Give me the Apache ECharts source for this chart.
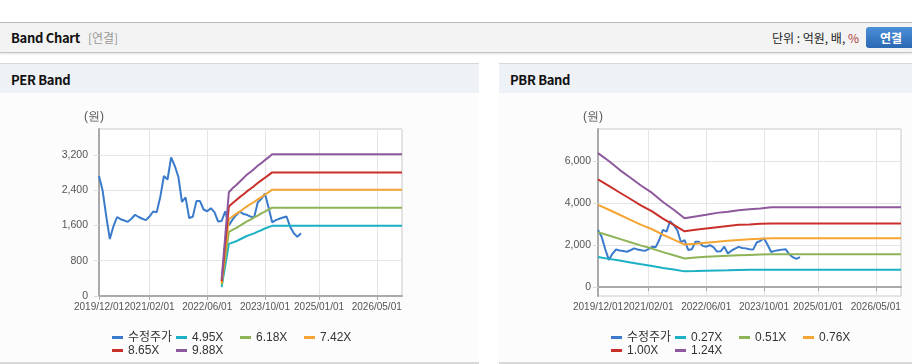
<!DOCTYPE html>
<html>
<head>
<meta charset="utf-8">
<script src="https://cdn.jsdelivr.net/npm/echarts@6/dist/echarts.min.js"></script>
<style>
  body { margin: 0; width: 912px; height: 364px; background: #fff; position: relative; overflow: hidden;
         font-family: "Noto Sans CJK KR", "Noto Sans", sans-serif; }
  .topbar { position: absolute; left: 0; top: 22px; width: 912px; height: 29px; background: #f3f3f3;
            border-top: 1px solid #b9b9b9; border-bottom: 1px solid #c4c4c4; box-shadow: 0 1px 2px rgba(0,0,0,0.12); }
  .topbar .title { position: absolute; left: 11px; top: 0; line-height: 29px; font-size: 13px; font-weight: bold; color: #111; letter-spacing: -0.3px; }
  .topbar .sub { color: #999; font-weight: normal; font-size: 12px; margin-left: 8px; letter-spacing: 0; }
  .topbar .unit { position: absolute; right: 53px; top: 0; line-height: 29px; font-size: 12px; color: #222; }
  .topbar .unit b { font-weight: normal; color: #b03a3a; }
  .topbar .btn { position: absolute; left: 866px; top: 4px; width: 52px; height: 21px; border-radius: 3px;
                 background: linear-gradient(#4b8fd8, #2b68b3); color: #fff; font-size: 12px; font-weight: bold;
                 line-height: 21px; text-align: center; padding-right: 2px; box-sizing: border-box; }
  .panel { position: absolute; top: 63px; height: 298px; background: #fcfcfc;
           border-top: 1px solid #d8d8d8; border-bottom: 2px solid #d8d8d8; }
  .panel .head { height: 29px; background: #eef1f6; font-size: 13px; font-weight: bold; color: #111;
                 line-height: 31px; padding-left: 11px; letter-spacing: -0.3px; }
  .chart { position: absolute; top: 30px; left: 0; height: 269px; }
</style>
</head>
<body>
<div class="topbar">
  <div class="title">Band Chart<span class="sub">[연결]</span></div>
  <div class="unit">단위 : 억원, 배, <b>%</b></div>
  <div class="btn">연결</div>
</div>
<div class="panel" style="left:0;width:479px;">
  <div class="head">PER Band</div>
  <div class="chart" id="per" style="width:479px;"></div>
</div>
<div class="panel" style="left:499px;width:413px;">
  <div class="head">PBR Band</div>
  <div class="chart" id="pbr" style="width:413px;"></div>
</div>
<script>
// 월별 카테고리 (2019/12 ~ 2026/12)
var months = [];
for (var i = 0; i < 85; i++) {
  var y = 2019 + Math.floor((11 + i) / 12);
  var m = ((11 + i) % 12) + 1;
  months.push(y + "/" + (m < 10 ? "0" + m : m) + "/01");
}
var labelIdx = [0, 14, 30, 46, 61, 77];

// 수정주가 (월별)
var price = [2720, 2390, 1810, 1290, 1580, 1790, 1740, 1710, 1680, 1750, 1840, 1790, 1750, 1720, 1800,
  1915, 1900, 2250, 2720, 2640, 3140, 2950, 2700, 2130, 2235, 1767, 1797, 2150, 2150, 1960, 1920, 1990,
  1900, 1690, 1700, 1918, 1600, 1730, 1830, 1910, 1860, 1840, 1800, 1780, 2120, 2200, 2320, 2010, 1670,
  1720, 1750, 1780, 1800, 1570, 1420, 1340, 1420];

// PER 밴드 [월 index, 값]
var per495 = [[34, 200], [35, 690], [36, 1180], [37, 1210], [38, 1240], [39, 1280], [40, 1320], [41, 1360],
  [42, 1390], [43, 1420], [44, 1460], [45, 1490], [46, 1530], [47, 1560], [48, 1590], [84, 1590]];
var per618 = [[34, 250], [35, 850], [36, 1450], [37, 1500], [38, 1540], [39, 1590], [40, 1640], [41, 1690],
  [42, 1730], [43, 1780], [44, 1820], [45, 1870], [46, 1910], [47, 1960], [48, 2000], [84, 2000]];
var per742 = [[34, 290], [35, 1020], [36, 1740], [37, 1800], [38, 1860], [39, 1910], [40, 1970], [41, 2030],
  [42, 2080], [43, 2130], [44, 2190], [45, 2240], [46, 2300], [47, 2350], [48, 2410], [84, 2410]];
var per865 = [[34, 330], [35, 1180], [36, 2030], [37, 2100], [38, 2170], [39, 2240], [40, 2300], [41, 2370],
  [42, 2430], [43, 2490], [44, 2560], [45, 2620], [46, 2680], [47, 2740], [48, 2800], [84, 2800]];
var per988 = [[34, 380], [35, 1360], [36, 2350], [37, 2440], [38, 2510], [39, 2590], [40, 2670], [41, 2750],
  [42, 2810], [43, 2880], [44, 2950], [45, 3010], [46, 3080], [47, 3140], [48, 3210], [84, 3210]];

// PBR 밴드
var pbr027 = [[0, 1430], [3, 1340], [6, 1260], [9, 1170], [12, 1080], [15, 1000], [18, 910], [21, 830], [24, 745],
  [27, 760], [30, 780], [33, 790], [36, 800], [39, 815], [42, 826], [84, 826]];
var pbr051 = [[0, 2610], [3, 2450], [6, 2290], [9, 2130], [12, 1970], [15, 1830], [18, 1660], [21, 1510], [24, 1360],
  [27, 1400], [30, 1440], [33, 1470], [36, 1490], [39, 1510], [42, 1530], [45, 1550], [48, 1556], [84, 1556]];
var pbr076 = [[0, 3910], [3, 3680], [6, 3440], [9, 3200], [12, 2960], [15, 2750], [18, 2490], [21, 2260], [24, 2020],
  [27, 2060], [30, 2110], [33, 2150], [36, 2200], [39, 2240], [42, 2270], [45, 2300], [48, 2320], [84, 2320]];
var pbr100 = [[0, 5120], [3, 4820], [6, 4500], [9, 4190], [12, 3880], [15, 3600], [18, 3260], [21, 2960], [24, 2650],
  [27, 2730], [30, 2790], [33, 2850], [36, 2910], [39, 2960], [42, 2980], [45, 3010], [48, 3020], [84, 3020]];
var pbr124 = [[0, 6377], [3, 6000], [6, 5580], [9, 5200], [12, 4820], [15, 4480], [18, 4050], [21, 3680], [24, 3270],
  [27, 3360], [30, 3440], [33, 3530], [36, 3580], [39, 3660], [42, 3700], [45, 3740], [48, 3800], [84, 3800]];

var colors = ["#3a7bcc", "#1bb0c3", "#8db457", "#f5a534", "#c9302a", "#8e599c"];
var numFont = "'Liberation Sans', Arial, sans-serif";

function showIdx(index) {
  return labelIdx.indexOf(index) >= 0;
}

function makeOption(names, bands, yAxisOpt, yMargin) {
  var series = [{ name: names[0], type: "line", data: price }];
  for (var k = 0; k < bands.length; k++) {
    series.push({ name: names[k + 1], type: "line", data: bands[k] });
  }
  series.forEach(function (s) {
    s.showSymbol = false;
    s.symbol = "none";
    s.lineStyle = { width: 2 };
    s.emphasis = { disabled: true };
  });
  return {
    animation: false,
    color: colors,
    grid: { left: 99, top: 35, width: 303, height: 167, show: true, borderColor: "#c8c8c8", borderWidth: 1, backgroundColor: "#fff" },
    legend: {
      left: 107, top: 232, width: 262, itemGap: 0, itemWidth: 11, itemHeight: 3, icon: "rect",
      textStyle: { width: 48, fontSize: 12, lineHeight: 13, color: "#333", fontFamily: numFont + ", 'Noto Sans CJK KR'" },
      data: names
    },
    xAxis: {
      type: "category",
      data: months,
      boundaryGap: false,
      axisLine: { lineStyle: { color: "#aaa", width: 2 } },
      axisTick: { interval: function (i) { return showIdx(i); }, length: 4, lineStyle: { color: "#aaa" } },
      axisLabel: { interval: function (i) { return showIdx(i); }, showMinLabel: true, margin: 6, color: "#555", fontSize: 10, fontFamily: numFont },
      splitLine: { show: true, interval: function (i) { return showIdx(i); }, lineStyle: { color: "#e4e4e4" } }
    },
    yAxis: Object.assign({
      type: "value",
      name: "(원)",
      nameLocation: "end",
      nameGap: 6,
      nameTextStyle: { color: "#555", fontSize: 12, align: "center", padding: [0, 10, 0, 0] },
      axisLine: { show: true, lineStyle: { color: "#aaa", width: 2 } },
      axisTick: { show: true, length: 5, lineStyle: { color: "#ddd" } },
      axisLabel: { color: "#555", fontSize: 10.5, fontFamily: numFont, showMaxLabel: false, margin: yMargin },
      splitLine: { lineStyle: { color: "#e4e4e4" } }
    }, yAxisOpt),
    series: series
  };
}

var perChart = echarts.init(document.getElementById("per"));
perChart.setOption(makeOption(
  ["수정주가", "4.95X", "6.18X", "7.42X", "8.65X", "9.88X"],
  [per495, per618, per742, per865, per988],
  { min: 0, max: 3784, interval: 800 },
  11
));

var pbrChart = echarts.init(document.getElementById("pbr"));
var pbrOpt = makeOption(
  ["수정주가", "0.27X", "0.51X", "0.76X", "1.00X", "1.24X"],
  [pbr027, pbr051, pbr076, pbr100, pbr124],
  { min: -428, max: 7524, splitNumber: 4 },
  7
);
pbrOpt.yAxis.axisLabel.showMinLabel = false;
pbrChart.setOption(pbrOpt);

window.addEventListener("resize", function () {
  perChart.resize();
  pbrChart.resize();
});
</script>
</body>
</html>
